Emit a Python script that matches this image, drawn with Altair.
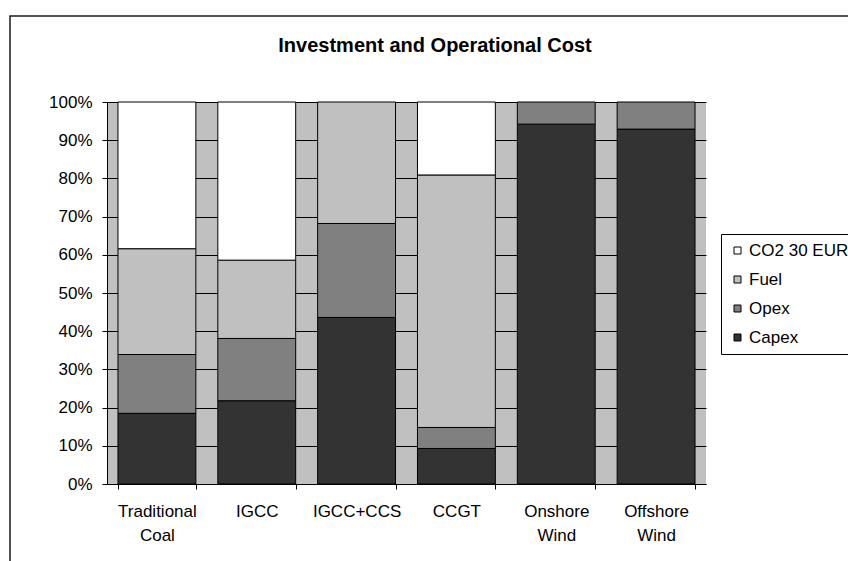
import altair as alt
import pandas as pd

# Technologies along the x axis
categories = ["Traditional Coal", "IGCC", "IGCC+CCS", "CCGT", "Onshore Wind", "Offshore Wind"]

# Cost shares per technology (percent of total)
capex = [18.5, 21.8, 43.6, 9.3, 94.2, 92.9]
opex = [15.4, 16.3, 24.6, 5.5, 5.8, 7.1]
fuel = [27.7, 20.5, 31.8, 66.1, 0.0, 0.0]
co2 = [38.4, 41.4, 0.0, 19.1, 0.0, 0.0]

# Legend order (top to bottom) and fills
components = ["CO2 30 EUR", "Fuel", "Opex", "Capex"]
fills = ["#FFFFFF", "#C0C0C0", "#808080", "#333333"]
stack_rank = {"Capex": 0, "Opex": 1, "Fuel": 2, "CO2 30 EUR": 3}

chart_title = "Investment and Operational Cost"

series = {"Capex": capex, "Opex": opex, "Fuel": fuel, "CO2 30 EUR": co2}
rows = []
for comp, vals in series.items():
    for tech, v in zip(categories, vals):
        if v > 0:
            rows.append({"tech": tech, "component": comp, "share": v, "rank": stack_rank[comp]})
df = pd.DataFrame(rows)

FONT = "Liberation Sans"

bars = (
    alt.Chart(df)
    .mark_bar(stroke="black", strokeWidth=1)
    .encode(
        x=alt.X(
            "tech:N",
            sort=categories,
            scale=alt.Scale(paddingInner=0.22, paddingOuter=0.11),
            axis=alt.Axis(
                title=None,
                labelAngle=0,
                tickBand="extent",
                labelExpr="split(datum.label, ' ')",
                labelLineHeight=24,
                labelPadding=14,
                tickSize=5,
            ),
        ),
        y=alt.Y(
            "share:Q",
            stack="normalize",
            scale=alt.Scale(domain=[0, 1]),
            axis=alt.Axis(
                title=None,
                format=".0%",
                values=[i / 10 for i in range(11)],
                grid=True,
                tickSize=5,
                labelPadding=10,
            ),
        ),
        color=alt.Color(
            "component:N",
            scale=alt.Scale(domain=components, range=fills),
            legend=alt.Legend(
                title=None,
                orient="none",
                legendX=614,
                legendY=132,
                symbolType="square",
                symbolSize=49,
                symbolStrokeColor="black",
                symbolStrokeWidth=1,
                labelOffset=3,
                rowPadding=11,
                padding=8,
                strokeColor="black",
                fillColor="white",
            ),
        ),
        order=alt.Order("rank:Q"),
    )
)

# Outer frame around the whole chart area
frame = (
    alt.Chart(pd.DataFrame({"f": [0]}))
    .mark_rect(filled=False, stroke="#1a1a1a", strokeWidth=1.5)
    .encode(x=alt.value(-97), x2=alt.value(770), y=alt.value(-86), y2=alt.value(490))
)

# Chart heading, centred over the whole chart area
heading = (
    alt.Chart(pd.DataFrame({"t": [chart_title]}))
    .mark_text(
        font=FONT,
        fontSize=20,
        fontWeight="bold",
        color="black",
        align="center",
        baseline="alphabetic",
    )
    .encode(text="t:N", x=alt.value(328), y=alt.value(-50))
)

chart = (
    alt.layer(frame, bars, heading)
    .properties(
        width=599,
        height=382,
        padding={"left": 107, "top": 102, "right": 142, "bottom": 77},
        autosize=alt.AutoSizeParams(type="none"),
        background="white",
    )
    .configure_view(stroke=None, fill="#C0C0C0")
    .configure_axis(
        labelFont=FONT,
        labelFontSize=17,
        labelColor="black",
        domainColor="black",
        domainWidth=1,
        tickColor="black",
        tickWidth=1,
        gridColor="black",
        gridOpacity=1,
        gridWidth=1,
    )
    .configure_legend(labelFont=FONT, labelFontSize=17, labelColor="black")
)

chart.save("out.html", embed_options={"renderer": "svg", "actions": False})
